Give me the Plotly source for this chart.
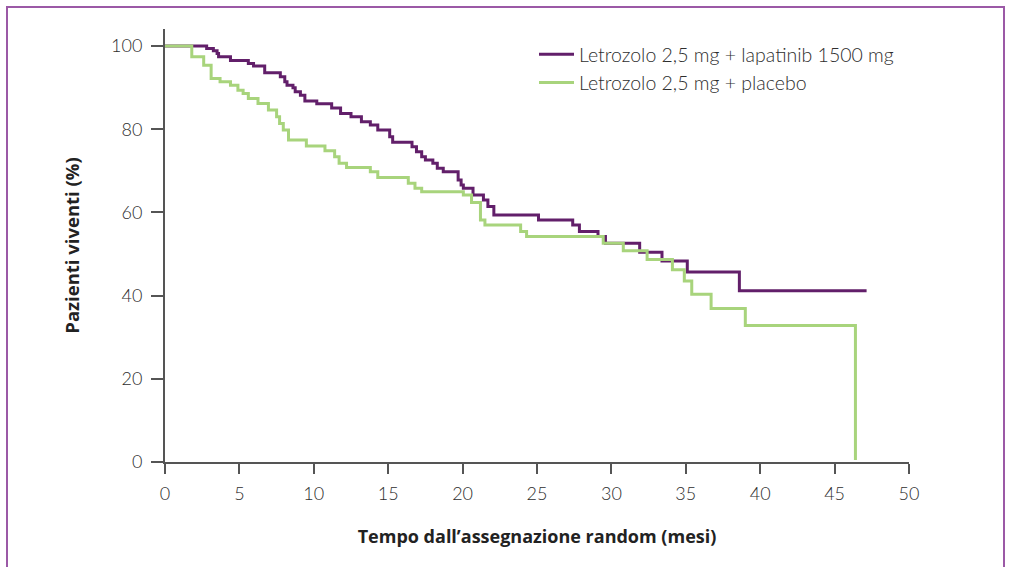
import plotly.graph_objects as go

# Months since randomisation and survival (%) for each arm
lap_t = [0, 2.8, 3.25, 3.5, 3.6, 4.4, 5.6, 5.95, 6.7, 7.75,
         8.05, 8.2, 8.6, 8.75, 9.1, 9.4, 10.2, 11.2, 11.8, 12.5,
         13.2, 13.8, 14.3, 15.1, 15.3, 16.6, 16.9, 17.25, 17.5, 18.0,
         18.3, 18.7, 19.7, 19.9, 20.05, 20.7, 21.4, 21.7, 22.1, 25.1,
         27.4, 27.85, 29.1, 29.6, 31.9, 33.4, 35.1, 38.6, 47.15]
lap_s = [100, 99.4, 98.9, 98.2, 97.4, 96.5, 95.8, 95.2, 93.6, 92.6,
         91.4, 90.6, 90.0, 89.0, 88.2, 86.8, 86.1, 85.1, 83.8, 83.0,
         81.8, 81.0, 79.8, 78.2, 76.9, 75.8, 74.6, 73.4, 72.6, 71.8,
         70.6, 69.8, 67.8, 66.6, 65.8, 64.2, 63.0, 61.4, 59.4, 58.2,
         57.0, 55.4, 54.2, 52.6, 50.4, 48.3, 45.7, 41.2, 41.2]

pla_t = [0, 1.8, 2.6, 3.1, 3.7, 4.4, 4.9, 5.25, 5.6, 6.25,
         6.95, 7.5, 7.7, 7.95, 8.3, 9.5, 10.75, 11.4, 11.7, 12.2,
         13.8, 14.3, 16.35, 16.8, 17.25, 20.05, 20.6, 21.2, 21.5, 23.9,
         24.3, 29.45, 30.8, 32.4, 34.1, 34.9, 35.4, 36.7, 39.0, 46.4]
pla_s = [100, 97.4, 95.4, 92.2, 91.4, 90.6, 89.4, 88.6, 87.4, 86.2,
         84.6, 83.0, 81.4, 79.8, 77.4, 76.0, 74.8, 73.4, 71.8, 70.8,
         69.8, 68.4, 67.0, 65.8, 65.0, 64.2, 62.4, 58.2, 57.0, 55.4,
         54.2, 52.6, 50.8, 48.7, 46.2, 43.5, 40.3, 36.9, 32.8, 0.5]

series_names = ["Letrozolo 2,5 mg + lapatinib 1500 mg", "Letrozolo 2,5 mg + placebo"]
x_ticks = list(range(0, 51, 5))
y_ticks = list(range(0, 101, 20))
x_title = "Tempo dall\u2019assegnazione random (mesi)"
y_title = "Pazienti viventi (%)"

PURPLE = "#621f6a"
GREEN = "#a8d47c"
TEXT = "#2e2e2e"
AXIS = "#555555"
FONT = "Lato"
TITLE_FONT = "Open Sans"

fig = go.Figure()
fig.add_trace(go.Scatter(x=lap_t, y=lap_s, mode="lines", line_shape="hv",
                         line=dict(color=PURPLE, width=3), name=series_names[0],
                         legendgroup="a"))
fig.add_trace(go.Scatter(x=pla_t, y=pla_s, mode="lines", line_shape="hv",
                         line=dict(color=GREEN, width=3), name=series_names[1],
                         legendgroup="b"))

L, R, T, B = 165, 909, 29, 462
W, H = 1010, 567

def px(x):
    return (x - L) / (R - L)

def py(y):
    return (B - y) / (B - T)

fig.update_layout(
    width=W, height=H, autosize=False,
    margin=dict(l=L, r=W - R, t=T, b=H - B, pad=0),
    paper_bgcolor="white", plot_bgcolor="white",
    font=dict(family=FONT, size=18, color=TEXT),
    showlegend=True,
    legend=dict(x=px(534), y=py(35), xanchor="left", yanchor="top",
                font=dict(family=FONT, size=19.5, color=TEXT, weight=300),
                bgcolor="rgba(0,0,0,0)", tracegroupgap=0, itemwidth=35),
    xaxis=dict(range=[0, 50], tickvals=x_ticks, showgrid=False, zeroline=False,
               showline=True, linecolor=AXIS, linewidth=2,
               ticks="outside", ticklen=10, tickwidth=1.5, tickcolor=AXIS,
               ticklabelstandoff=4, tickfont=dict(size=18, weight=300),
               title=dict(text=x_title, standoff=28,
                          font=dict(family=TITLE_FONT, size=18, color="#222222", weight="bold"))),
    yaxis=dict(range=[0, 104.1], tickvals=y_ticks, showgrid=False, zeroline=False,
               showline=True, linecolor=AXIS, linewidth=2,
               ticks="outside", ticklen=12, tickwidth=1.5, tickcolor=AXIS,
               ticklabelstandoff=5, tickfont=dict(size=18, weight=300),
               title=dict(text=y_title, standoff=27,
                          font=dict(family=TITLE_FONT, size=18.5, color="#222222", weight="bold"))),
    shapes=[dict(type="rect", xref="paper", yref="paper",
                 x0=px(7), x1=px(1004), y0=py(620), y1=py(7),
                 line=dict(color="#9b59a6", width=2), fillcolor="rgba(0,0,0,0)",
                 layer="below")],
)

fig.write_html("out.html", config={"displayModeBar": False},
               post_script="document.body.style.margin='0px';")
